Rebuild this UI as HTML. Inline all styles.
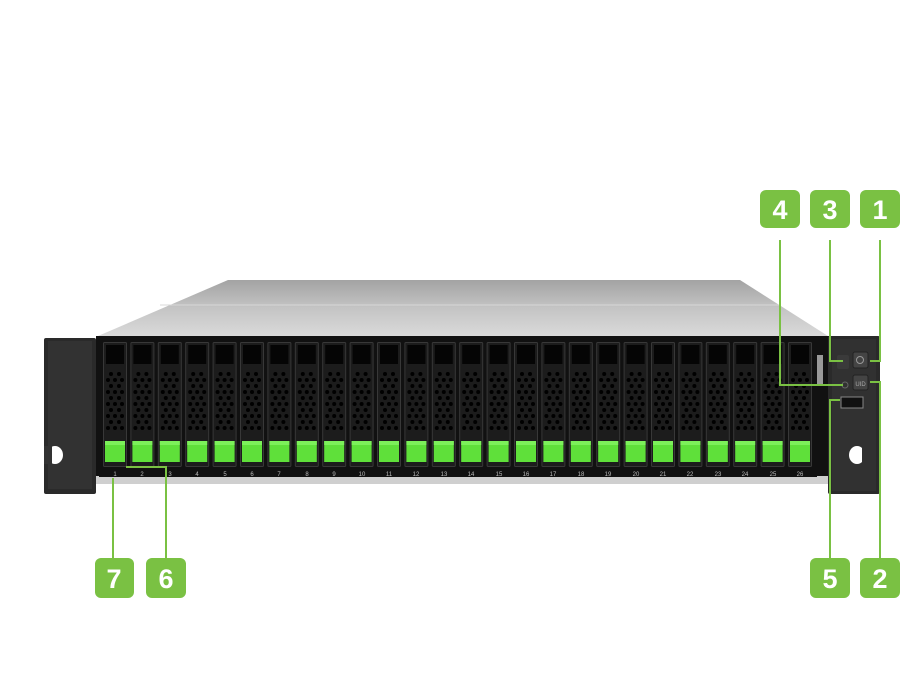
<!DOCTYPE html>
<html><head><meta charset="utf-8"><style>
html,body{margin:0;padding:0;background:#fff;}
svg{display:block}
.lbl{font-family:"Liberation Sans",sans-serif;font-weight:bold;font-size:27px;fill:#fff;text-anchor:middle}
.n{font-family:"Liberation Sans",sans-serif;font-size:6px;fill:#bbb;text-anchor:middle}
use{transform:translateY(342px)}
</style></head><body>
<svg width="920" height="690" viewBox="0 0 920 690" xmlns="http://www.w3.org/2000/svg">
<defs>
<linearGradient id="top" x1="0" y1="0" x2="0" y2="1">
<stop offset="0" stop-color="#a3a3a3"/><stop offset="0.5" stop-color="#c4c4c4"/><stop offset="1" stop-color="#dadada"/>
</linearGradient>
<g id="bay">
<rect x="0.5" y="0.5" width="23" height="124" fill="#1c1c1c" stroke="#383838" stroke-width="1" rx="1"/>
<rect x="3" y="3" width="18" height="19" fill="#050505"/>
<g fill="#000">
<circle cx="8" cy="32" r="2"/><circle cx="16" cy="32" r="2"/>
<circle cx="5" cy="38" r="2"/><circle cx="12" cy="38" r="2"/><circle cx="19" cy="38" r="2"/>
<circle cx="8" cy="44" r="2"/><circle cx="16" cy="44" r="2"/>
<circle cx="5" cy="50" r="2"/><circle cx="12" cy="50" r="2"/><circle cx="19" cy="50" r="2"/>
<circle cx="8" cy="56" r="2"/><circle cx="16" cy="56" r="2"/>
<circle cx="5" cy="62" r="2"/><circle cx="12" cy="62" r="2"/><circle cx="19" cy="62" r="2"/>
<circle cx="8" cy="68" r="2"/><circle cx="16" cy="68" r="2"/>
<circle cx="5" cy="74" r="2"/><circle cx="12" cy="74" r="2"/><circle cx="19" cy="74" r="2"/>
<circle cx="8" cy="80" r="2"/><circle cx="16" cy="80" r="2"/>
<circle cx="5" cy="86" r="2"/><circle cx="12" cy="86" r="2"/><circle cx="19" cy="86" r="2"/>
</g>
<rect x="2" y="99" width="20" height="21" fill="#5fe03a"/>
<rect x="2" y="99" width="20" height="4" fill="#7cf05a"/>
</g>
</defs>

<polygon points="228,280 740,280 828,336 98,336" fill="url(#top)"/>
<line x1="160" y1="305" x2="780" y2="305" stroke="#d8d8d8" stroke-width="1"/>
<rect x="96" y="336" width="734" height="146" fill="#111"/>
<rect x="96" y="476" width="734" height="8" fill="#cfcfcf"/>
<rect x="99" y="466" width="718" height="11" fill="#111"/>
<rect x="44" y="338" width="52" height="156" fill="#2a2a2a" rx="2"/>
<rect x="48" y="341" width="44" height="148" fill="#323232"/>
<ellipse cx="55" cy="455" rx="8" ry="9" fill="#fff"/>
<rect x="44" y="446" width="8" height="18" fill="#323232"/>
<rect x="828" y="336" width="52" height="158" fill="#2a2a2a" rx="2"/>
<rect x="832" y="339" width="44" height="152" fill="#313131"/>
<ellipse cx="857" cy="455" rx="8" ry="9" fill="#fff"/>
<rect x="862" y="446" width="6" height="18" fill="#313131"/>
<rect x="837" y="355" width="12" height="14" fill="#3a3a3a" rx="2"/>
<rect x="853" y="352" width="15" height="16" fill="#444" rx="2" stroke="#222"/>
<circle cx="860" cy="360" r="3.5" fill="none" stroke="#999" stroke-width="1"/>
<rect x="853" y="375" width="15" height="15" fill="#444" rx="2" stroke="#222"/>
<text x="860.5" y="386" font-family="Liberation Sans" font-size="6" fill="#aaa" text-anchor="middle">UID</text>
<circle cx="845" cy="385" r="3" fill="none" stroke="#666"/>
<rect x="841" y="397" width="22" height="11" fill="#111" stroke="#888" stroke-width="1"/>
<rect x="817" y="355" width="6" height="30" fill="#999"/>

<g>
<use href="#bay" x="103"/><use href="#bay" x="130.4"/><use href="#bay" x="157.8"/><use href="#bay" x="185.2"/>
<use href="#bay" x="212.6"/><use href="#bay" x="240"/><use href="#bay" x="267.4"/><use href="#bay" x="294.8"/>
<use href="#bay" x="322.2"/><use href="#bay" x="349.6"/><use href="#bay" x="377"/><use href="#bay" x="404.4"/>
<use href="#bay" x="431.8"/><use href="#bay" x="459.2"/><use href="#bay" x="486.6"/><use href="#bay" x="514"/>
<use href="#bay" x="541.4"/><use href="#bay" x="568.8"/><use href="#bay" x="596.2"/><use href="#bay" x="623.6"/>
<use href="#bay" x="651"/><use href="#bay" x="678.4"/><use href="#bay" x="705.8"/><use href="#bay" x="733.2"/>
<use href="#bay" x="760.6"/><use href="#bay" x="788"/>
</g>
<g class="n">
<text x="115" y="476">1</text><text x="142" y="476">2</text><text x="170" y="476">3</text><text x="197" y="476">4</text>
<text x="225" y="476">5</text><text x="252" y="476">6</text><text x="279" y="476">7</text><text x="307" y="476">8</text>
<text x="334" y="476">9</text><text x="362" y="476">10</text><text x="389" y="476">11</text><text x="416" y="476">12</text>
<text x="444" y="476">13</text><text x="471" y="476">14</text><text x="499" y="476">15</text><text x="526" y="476">16</text>
<text x="553" y="476">17</text><text x="581" y="476">18</text><text x="608" y="476">19</text><text x="636" y="476">20</text>
<text x="663" y="476">21</text><text x="690" y="476">22</text><text x="718" y="476">23</text><text x="745" y="476">24</text>
<text x="773" y="476">25</text><text x="800" y="476">26</text>
</g>

<g stroke="#7ac143" stroke-width="2" fill="none">
<polyline points="780,240 780,385 843,385"/>
<polyline points="830,240 830,361 843,361"/>
<polyline points="880,240 880,361 870,361"/>
<polyline points="870,382 880,382 880,560"/>
<polyline points="840,400 830,400 830,560"/>
<polyline points="113,478 113,560"/>
<polyline points="126,467 166,467 166,560"/>
</g>

<g fill="#7ac143">
<rect x="760" y="190" width="40" height="38" rx="6"/>
<rect x="810" y="190" width="40" height="38" rx="6"/>
<rect x="860" y="190" width="40" height="38" rx="6"/>
<rect x="810" y="558" width="40" height="40" rx="6"/>
<rect x="860" y="558" width="40" height="40" rx="6"/>
<rect x="95" y="558" width="39" height="40" rx="6"/>
<rect x="146" y="558" width="40" height="40" rx="6"/>
</g>
<text class="lbl" x="780" y="219">4</text>
<text class="lbl" x="830" y="219">3</text>
<text class="lbl" x="880" y="219">1</text>
<text class="lbl" x="830" y="588">5</text>
<text class="lbl" x="880" y="588">2</text>
<text class="lbl" x="114" y="588">7</text>
<text class="lbl" x="166" y="588">6</text>
</svg>
</body></html>
